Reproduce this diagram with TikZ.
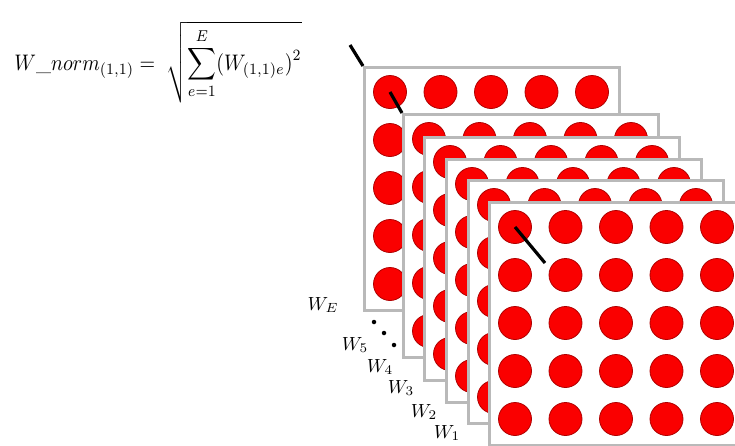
\documentclass[tikz,border=0pt]{standalone}
\definecolor{panelgray}{RGB}{185,185,185}
\definecolor{dotred}{RGB}{250,0,0}
\definecolor{dotedge}{RGB}{175,0,0}
\begin{document}
\begin{tikzpicture}[x=1pt,y=-1pt,
  panel/.style={fill=white,draw=panelgray,line width=2.8pt,minimum width=255pt,minimum height=243pt,inner sep=0pt,anchor=north west},
  reddot/.style={circle,fill=dotred,draw=dotedge,line width=0.8pt,minimum size=33pt,inner sep=0pt},
  stick/.style={line width=3.2pt,black},
  lbl/.style={scale=1.9,inner sep=0pt},
  elli/.style={circle,fill=black,minimum size=4.5pt,inner sep=0pt}]
\useasboundingbox (0,0) rectangle (735,445);
\clip (0,0) rectangle (735,445);
\fill[white] (0,0) rectangle (735,445);
\node[anchor=base west,xscale=2.0,yscale=2.25,inner sep=0pt] (formula) at (14,70)
  {$W\_norm_{(1,1)} = \;\sqrt{\displaystyle\sum_{e=1}^{E}(W_{(1,1)e})^{2}}$};
\foreach \n/\px/\py in {E/363/66,5/402/113,4/423/136,3/445/158,2/467/179,1/488/201}{
  \node[panel] (p\n) at (\px,\py) {};
  \foreach \i in {0,...,4}{
    \foreach \j in {0,...,4}{
      \node[reddot] (c\n-\i-\j) at (\px+27+50.5*\i,\py+26+48*\j) {};
    }
  }
}
\coordinate (s1) at (350,45);
\coordinate (s3) at (545,263);
\draw[stick] (s1) -- (pE.north west);
\draw[stick] (cE-0-0.center) -- (p5.north west);
\draw[stick] (c1-0-0.center) -- (s3);
\node[lbl] (lE) at (323,305) {$W_E$};
\node[lbl] (l5) at (355,345) {$W_5$};
\node[lbl] (l4) at (380,367) {$W_4$};
\node[lbl] (l3) at (401,388) {$W_3$};
\node[lbl] (l2) at (424,412) {$W_2$};
\node[lbl] (l1) at (447,433) {$W_1$};
\node[elli] (d1) at (374,322) {};
\node[elli] (d2) at (384,333) {};
\node[elli] (d3) at (394,345) {};
\end{tikzpicture}
\end{document}
